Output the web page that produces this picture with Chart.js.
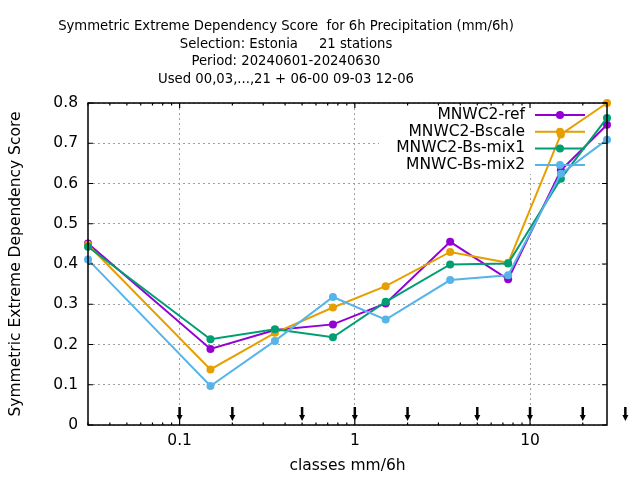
<!DOCTYPE html>
<html>
<head>
<meta charset="utf-8">
<script src="https://cdn.jsdelivr.net/npm/chart.js@4.4.1/dist/chart.umd.min.js"></script>
<style>
  html, body { margin: 0; padding: 0; background: #fff; }
  canvas { display: block; }
</style>
</head>
<body>
<canvas id="sedsChart" width="640" height="480"></canvas>
<script>
const titleLines = [
  'Symmetric Extreme Dependency Score  for 6h Precipitation (mm/6h)',
  'Selection: Estonia     21 stations',
  'Period: 20240601-20240630',
  'Used 00,03,...,21 + 06-00 09-03 12-06'
];

// class midpoints (mm/6h) and class limits (arrows under the plot)
const classMids   = [0.03, 0.15, 0.35, 0.75, 1.5, 3.5, 7.5, 15, 27.5];
const classLimits = [0.1, 0.2, 0.5, 1, 2, 5, 10, 20, 35];

const seriesNames  = ['MNWC2-ref', 'MNWC2-Bscale', 'MNWC2-Bs-mix1', 'MNWC-Bs-mix2'];
const seriesColors = ['#9400d3', '#e69f00', '#009e73', '#56b4e9'];

const refScores    = [0.451, 0.189, 0.236, 0.250, 0.302, 0.455, 0.362, 0.633, 0.746];
const bscaleScores = [0.448, 0.138, 0.229, 0.292, 0.345, 0.430, 0.403, 0.722, 0.800];
const mix1Scores   = [0.443, 0.213, 0.238, 0.218, 0.306, 0.399, 0.401, 0.612, 0.763];
const mix2Scores   = [0.411, 0.097, 0.209, 0.318, 0.262, 0.360, 0.372, 0.624, 0.709];

const xTickValues = [0.1, 1, 10];
const xTickLabels = ['0.1', '1', '10'];
const yTickValues = [0, 0.1, 0.2, 0.3, 0.4, 0.5, 0.6, 0.7, 0.8];
const yTickLabels = ['0', '0.1', '0.2', '0.3', '0.4', '0.5', '0.6', '0.7', '0.8'];

const allScores = [refScores, bscaleScores, mix1Scores, mix2Scores];

Chart.defaults.font.family = "'DejaVu Sans', sans-serif";
Chart.defaults.font.size = 15.5;
Chart.defaults.color = '#000';

// gnuplot-ish extras: title, opaque key area, frame with inward ticks, arrows, key
const gnuplotLook = {
    id: 'gnuplotLook',
    beforeDatasetsDraw(chart) {
        const ctx = chart.ctx;
        ctx.save();
        ctx.fillStyle = '#fff';
        ctx.fillRect(379, 104, 218, 70);
        ctx.restore();
    },
    afterDatasetsDraw(chart) {
        const ctx = chart.ctx;
        ctx.save();
        ctx.font = "15.5px 'DejaVu Sans'";
        ctx.textAlign = 'right';
        ctx.textBaseline = 'middle';
        chart.data.datasets.forEach((ds, i) => {
            const y = 115 + i * 16.7;
            ctx.fillStyle = '#000';
            ctx.fillText(ds.label, 525, y);
            ctx.strokeStyle = ds.borderColor;
            ctx.lineWidth = 2;
            ctx.beginPath();
            ctx.moveTo(535, y);
            ctx.lineTo(585, y);
            ctx.stroke();
            ctx.fillStyle = ds.borderColor;
            ctx.beginPath();
            ctx.arc(560, y, 4, 0, Math.PI * 2);
            ctx.fill();
        });
        ctx.restore();
    },
    afterDraw(chart) {
        const ctx = chart.ctx;
        const {left, right, top, bottom} = chart.chartArea;
        const xs = chart.scales.x, ys = chart.scales.y;
        ctx.save();

        // title
        ctx.fillStyle = '#000';
        ctx.font = "14.7px 'DejaVu Sans Condensed', 'DejaVu Sans'";
        ctx.textAlign = 'center';
        ctx.textBaseline = 'alphabetic';
        titleLines.forEach((t, i) => ctx.fillText(t, 286, 30 + i * 17.5));

        // frame
        ctx.strokeStyle = '#000';
        ctx.lineWidth = 1.5;
        ctx.strokeRect(left, top, right - left, bottom - top);

        // y ticks, both sides
        ctx.lineWidth = 1.2;
        ctx.beginPath();
        yTickValues.forEach(v => {
            const y = ys.getPixelForValue(v);
            ctx.moveTo(left, y); ctx.lineTo(left + 5, y);
            ctx.moveTo(right, y); ctx.lineTo(right - 5, y);
        });
        // x major + minor ticks, bottom and top
        for (let e = -2; e <= 1; e++) {
            for (let m = 1; m <= 9; m++) {
                const v = m * Math.pow(10, e);
                if (v < xs.min - 1e-9 || v > xs.max + 1e-9) continue;
                const x = xs.getPixelForValue(v);
                const len = m === 1 ? 5 : 2.5;
                ctx.moveTo(x, bottom); ctx.lineTo(x, bottom - len);
                ctx.moveTo(x, top); ctx.lineTo(x, top + len);
            }
        }
        ctx.stroke();

        // class limit arrows
        ctx.lineWidth = 2.5;
        ctx.fillStyle = '#000';
        classLimits.forEach(v => {
            const x = xs.getPixelForValue(v);
            ctx.beginPath();
            ctx.moveTo(x, 407);
            ctx.lineTo(x, 417);
            ctx.stroke();
            ctx.beginPath();
            ctx.moveTo(x - 3, 415);
            ctx.lineTo(x + 3, 415);
            ctx.lineTo(x, 421);
            ctx.closePath();
            ctx.fill();
        });
        ctx.restore();
    }
};

new Chart(document.getElementById('sedsChart').getContext('2d'), {
    type: 'line',
    data: {
        datasets: seriesNames.map((name, i) => ({
            label: name,
            data: classMids.map((x, j) => ({x: x, y: allScores[i][j]})),
            borderColor: seriesColors[i],
            backgroundColor: seriesColors[i],
            borderWidth: 2,
            pointRadius: 4,
            pointHoverRadius: 4,
            pointBorderWidth: 0,
            pointBackgroundColor: seriesColors[i],
            tension: 0,
            fill: false,
            clip: false,
            order: seriesNames.length - i,
        })),
    },
    options: {
        responsive: false,
        animation: false,
        layout: { padding: { top: 103, right: 33, bottom: 0, left: 0 } },
        plugins: {
            legend: { display: false },
            title: { display: false },
            tooltip: { enabled: false },
        },
        scales: {
            x: {
                type: 'logarithmic',
                min: classMids[0],
                max: classMids[classMids.length - 1],
                afterBuildTicks: scale => { scale.ticks = xTickValues.map(v => ({value: v})); },
                afterFit: scale => { scale.height = 55; },
                ticks: {
                    autoSkip: false,
                    maxRotation: 0,
                    padding: 7,
                    callback: (value, index) => xTickLabels[index],
                },
                grid: { color: '#a0a0a0', lineWidth: 1, drawTicks: false },
                border: { display: false, dash: [2, 3] },
                title: { display: true, text: 'classes mm/6h', padding: { top: 4, bottom: 5 } },
            },
            y: {
                min: 0,
                max: 0.8,
                afterBuildTicks: scale => { scale.ticks = yTickValues.map(v => ({value: v})); },
                afterFit: scale => { scale.width = 88; },
                ticks: {
                    padding: 10,
                    callback: (value, index) => yTickLabels[index],
                },
                grid: { color: '#a0a0a0', lineWidth: 1, drawTicks: false },
                border: { display: false, dash: [2, 3] },
                title: { display: true, text: 'Symmetric Extreme Dependency Score', padding: { top: 6.5, bottom: 4 } },
            },
        },
    },
    plugins: [gnuplotLook],
});
</script>
</body>
</html>
